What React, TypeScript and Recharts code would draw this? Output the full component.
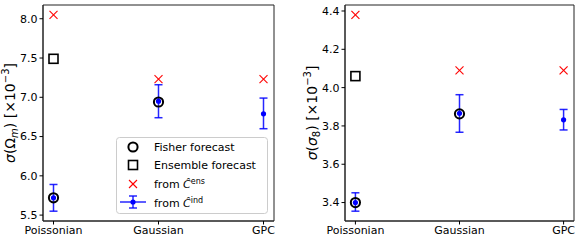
import React from "react";
import {
  ComposedChart,
  Scatter,
  XAxis,
  YAxis,
  ErrorBar,
  ReferenceArea,
  Legend,
} from "recharts";

const categories = ["Poissonian", "Gaussian", "GPC"];

// sigma(Omega_m) [x1e-3]
const omEnsCov = [8.05, 7.23, 7.23];
const omEnsemble = [7.49];
const omFisher = [5.72, 6.94];
const omInd = [5.72, 6.95, 6.79];
const omIndLow = [5.55, 6.74, 6.6];
const omIndHigh = [5.89, 7.16, 6.99];
const omTicks = [5.5, 6.0, 6.5, 7.0, 7.5, 8.0];

// sigma(sigma_8) [x1e-3]
const s8EnsCov = [4.38, 4.09, 4.09];
const s8Ensemble = [4.06];
const s8Fisher = [3.4, 3.863];
const s8Ind = [3.4, 3.866, 3.832];
const s8IndLow = [3.355, 3.767, 3.779];
const s8IndHigh = [3.451, 3.963, 3.886];
const s8Ticks = [3.4, 3.6, 3.8, 4.0, 4.2, 4.4];

const FONT = "DejaVu Sans";
const BLUE = "#0000ff";

const pts = (vals: number[]) => vals.map((y, i) => ({ x: i, y }));

const CrossShape = (p: any) => (
  <g stroke="#ff0000" strokeWidth={1.1}>
    <line x1={p.cx - 4} y1={p.cy - 4} x2={p.cx + 4} y2={p.cy + 4} />
    <line x1={p.cx - 4} y1={p.cy + 4} x2={p.cx + 4} y2={p.cy - 4} />
  </g>
);
const SquareShape = (p: any) => (
  <rect x={p.cx - 4.5} y={p.cy - 4.5} width={9} height={9} fill="none" stroke="#000" strokeWidth={1.6} />
);
const CircleShape = (p: any) => (
  <circle cx={p.cx} cy={p.cy} r={4.6} fill="none" stroke="#000" strokeWidth={2} />
);
const DotShape = (p: any) => <circle cx={p.cx} cy={p.cy} r={2.6} fill={BLUE} />;

const LegendBox = () => {
  const tx = 38;
  const t = { fontFamily: FONT, fontSize: 11, fill: "#000" } as const;
  return (
    <svg width={152} height={77}>
      <rect x={0.5} y={0.5} width={151} height={76} rx={3} fill="#fff" fillOpacity={0.85} stroke="#cccccc" />
      <circle cx={17} cy={10} r={4.6} fill="none" stroke="#000" strokeWidth={2} />
      <text x={tx} y={14} {...t}>Fisher forecast</text>
      <rect x={12.5} y={23.5} width={9} height={9} fill="none" stroke="#000" strokeWidth={1.6} />
      <text x={tx} y={32} {...t}>Ensemble forecast</text>
      <g stroke="#ff0000" strokeWidth={1.1}>
        <line x1={13} y1={43} x2={21} y2={51} />
        <line x1={13} y1={51} x2={21} y2={43} />
      </g>
      <text x={tx} y={51} {...t}>
        from <tspan fontStyle="italic">Ĉ</tspan>
        <tspan fontSize={8} dy={-4}>ens</tspan>
      </text>
      <g stroke={BLUE} strokeOpacity={0.85} strokeWidth={1.5}>
        <line x1={4} y1={65} x2={30} y2={65} />
        <line x1={17} y1={59} x2={17} y2={71} />
        <line x1={13} y1={59} x2={21} y2={59} />
        <line x1={13} y1={71} x2={21} y2={71} />
      </g>
      <circle cx={17} cy={65} r={2.6} fill={BLUE} />
      <text x={tx} y={70} {...t}>
        from <tspan fontStyle="italic">Ĉ</tspan>
        <tspan fontSize={8} dy={-4}>ind</tspan>
      </text>
    </svg>
  );
};

const YTitle = ({ x, y, sub, symbol, subItalic }: any) => (
  <text
    transform={`translate(${x},${y}) rotate(-90)`}
    textAnchor="middle"
    fontFamily={FONT}
    fontSize={14}
    fill="#000"
  >
    <tspan fontStyle="italic">σ</tspan>
    <tspan>(</tspan>
    <tspan fontStyle={symbol === "σ" ? "italic" : "normal"}>{symbol}</tspan>
    <tspan fontSize={10} dy={2.5} fontStyle={subItalic ? "italic" : "normal"}>{sub}</tspan>
    <tspan dy={-2.5}>) [×10</tspan>
    <tspan fontSize={10} dy={-6}>−3</tspan>
    <tspan dy={6}>]</tspan>
  </text>
);

type PanelProps = {
  left: number;
  width: number;
  yAxisWidth: number;
  marginRight: number;
  ens: number[];
  ensemble: number[];
  fisher: number[];
  ind: number[];
  lo: number[];
  hi: number[];
  ticks: number[];
  title: React.ReactNode;
  legend?: boolean;
};

function Panel(p: PanelProps) {
  const all = [...p.ens, ...p.ensemble, ...p.fisher, ...p.lo, ...p.hi];
  const mn = Math.min(...all);
  const mx = Math.max(...all);
  const pad = (mx - mn) * 0.05;
  const domain: [number, number] = [mn - pad, mx + pad];
  const indData = p.ind.map((y, i) => ({ x: i, y, err: [y - p.lo[i], p.hi[i] - y] }));
  const tickStyle = { fontFamily: FONT, fontSize: 11, fill: "#000" };
  return (
    <div style={{ position: "absolute", left: p.left, top: 0 }}>
      <ComposedChart
        width={p.width}
        height={244}
        margin={{ top: 5, right: p.marginRight, bottom: 0, left: 0 }}
      >
        <XAxis
          type="number"
          dataKey="x"
          domain={[-0.1, 2.1]}
          ticks={[0, 1, 2]}
          allowDataOverflow
          tickFormatter={(v: number) => categories[v]}
          height={23}
          tick={tickStyle}
          tickSize={3.5}
          tickMargin={2}
          stroke="#000"
          axisLine={{ stroke: "#222" }}
        />
        <YAxis
          type="number"
          dataKey="y"
          domain={domain}
          ticks={p.ticks}
          allowDataOverflow
          tickFormatter={(v: number) => v.toFixed(1)}
          width={p.yAxisWidth}
          tick={tickStyle}
          tickSize={3.5}
          tickMargin={2}
          stroke="#000"
          axisLine={{ stroke: "#222" }}
          label={{ content: () => p.title }}
        />
        <ReferenceArea
          x1={-0.1}
          x2={2.1}
          y1={domain[0]}
          y2={domain[1]}
          fill="none"
          stroke="#222"
          strokeWidth={1}
          ifOverflow="visible"
        />
        <Scatter data={pts(p.fisher)} shape={CircleShape} isAnimationActive={false} />
        <Scatter data={pts(p.ensemble)} shape={SquareShape} isAnimationActive={false} />
        <Scatter data={pts(p.ens)} shape={CrossShape} isAnimationActive={false} />
        <Scatter data={indData} shape={DotShape} isAnimationActive={false}>
          <ErrorBar
            dataKey="err"
            direction="y"
            width={4}
            stroke={BLUE}
            strokeOpacity={0.85}
            strokeWidth={1.5}
          />
        </Scatter>
        {p.legend && (
          <Legend
            layout="vertical"
            align="center"
            verticalAlign="middle"
            content={() => <LegendBox />}
            wrapperStyle={{ position: "absolute", left: 116, top: 137, width: 152, height: 77 }}
          />
        )}
      </ComposedChart>
    </div>
  );
}

export default function App() {
  return (
    <div style={{ position: "absolute", left: 0, top: 0, width: 582, height: 244, background: "#fff" }}>
      <Panel
        left={0}
        width={290}
        yAxisWidth={43}
        marginRight={16}
        ens={omEnsCov}
        ensemble={omEnsemble}
        fisher={omFisher}
        ind={omInd}
        lo={omIndLow}
        hi={omIndHigh}
        ticks={omTicks}
        title={<YTitle x={15} y={113} symbol="Ω" sub="m" subItalic />}
        legend
      />
      <Panel
        left={290}
        width={292}
        yAxisWidth={55}
        marginRight={8}
        ens={s8EnsCov}
        ensemble={s8Ensemble}
        fisher={s8Fisher}
        ind={s8Ind}
        lo={s8IndLow}
        hi={s8IndHigh}
        ticks={s8Ticks}
        title={<YTitle x={27} y={113} symbol="σ" sub="8" />}
      />
    </div>
  );
}
